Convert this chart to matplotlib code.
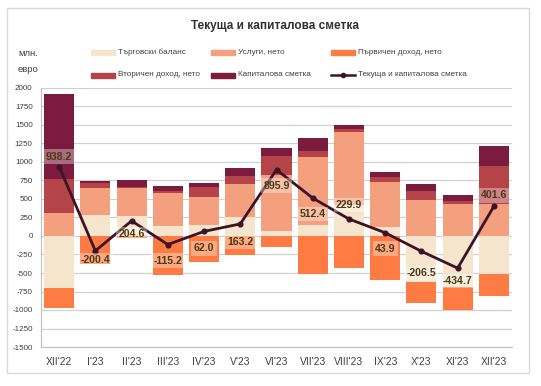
import matplotlib
matplotlib.use("Agg")
import matplotlib.pyplot as plt
from matplotlib.patches import Rectangle
from matplotlib.lines import Line2D
import numpy as np

plt.rcParams['font.family'] = ['Liberation Sans Narrow', 'Liberation Sans', 'DejaVu Sans']

# ---------------- data (as drawn in the reference) ----------------
categories = ["XII'22", "I'23", "II'23", "III'23", "IV'23", "V'23", "VI'23",
              "VII'23", "VIII'23", "IX'23", "X'23", "XI'23", "XII'23"]
trade = [-708, 282, 266, 129, 150, 254, 73, 149, 413, 115, -618, -685, -515]
services = [309, 372, 388, 453, 383, 454, 751, 913, 998, 620, 493, 426, 435]
primary = [-260, -385, -25, -529, -358, -251, -145, -520, -432, -590, -291, -314, -291]
secondary = [461, 63, 10, 27, 134, 98, 251, 89, 41, 58, 116, 53, 515]
capital = [1143, 31, 99, 63, 54, 117, 112, 180, 44, 76, 90, 77, 269]
total = [938.2, -200.4, 204.6, -115.2, 62.0, 163.2, 895.9, 512.4, 229.9, 43.9, -206.5, -434.7, 401.6]

series_names = ["Търговски баланс", "Услуги, нето", "Първичен доход, нето",
                "Вторичен доход, нето", "Капиталова сметка", "Текуща и капиталова сметка"]
y_ticks = list(range(-1500, 2001, 250))

# ---------------- style ----------------
colors = ["#F5E5CC", "#F4A07F", "#FE7B43", "#B54448", "#7B1C3E"]
line_color = "#3E1327"
label_color = "#4A3A12"

W, H = 541, 386
fig = plt.figure(figsize=(W / 100, H / 100), dpi=100)
fig.patch.set_facecolor("white")

def fx(px):
    return px / W

def fy(py):
    return 1 - py / H

# outer border
fig.patches.append(Rectangle((fx(7), fy(373)), fx(529) - fx(7), fy(8) - fy(373),
                             transform=fig.transFigure, fill=False,
                             edgecolor="#D9D9D9", linewidth=1.0))

ax = fig.add_axes([fx(41), fy(347), fx(512) - fx(41), fy(88) - fy(347)])
x = np.arange(len(categories))
bw = 0.83

series = [trade, services, primary, secondary, capital]
pos_base = np.zeros(len(x))
neg_base = np.zeros(len(x))
for vals, col in zip(series, colors):
    v = np.array(vals, dtype=float)
    bottoms = np.where(v >= 0, pos_base, neg_base)
    ax.bar(x, v, bw, bottom=bottoms, color=col, edgecolor="none", zorder=2)
    pos_base = pos_base + np.where(v >= 0, v, 0)
    neg_base = neg_base + np.where(v < 0, v, 0)

ax.plot(x, total, color=line_color, linewidth=2.0, marker="o", markersize=3.4, zorder=4)

offsets = [10, -9, -13, -16, -17, -18, -16, -16, 14, -16, -22, -13, 11]
for xi, v, off in zip(x, total, offsets):
    ax.annotate(f"{v:.1f}", (xi, v), xytext=(0, off), textcoords="offset pixels",
                ha="center", va="center", fontsize=7.6, fontweight="bold",
                color=label_color, zorder=5,
                bbox=dict(boxstyle="square,pad=0.22", fc="white", alpha=0.35, ec="none"))

ax.set_xlim(-0.5, len(x) - 0.5)
ax.set_ylim(-1500, 2000)
ax.set_yticks(y_ticks)
ax.set_yticklabels([str(t) for t in y_ticks], fontsize=5.8, color="#404040")
ax.set_xticks(x)
ax.set_xticklabels(categories, fontsize=7.4, color="#404040")
ax.tick_params(axis="y", length=0, pad=6)
ax.tick_params(axis="x", length=0, pad=7)
ax.grid(axis="y", color="#D0D0D0", linewidth=0.9, zorder=0)
ax.set_axisbelow(True)
for s in ["top", "right"]:
    ax.spines[s].set_visible(False)
ax.spines["left"].set_color("#BFBFBF")
ax.spines["bottom"].set_color("#BFBFBF")

# title
fig.text(fx(275), fy(26), "Текуща и капиталова сметка", ha="center", va="center",
         fontsize=8.5, fontweight="bold", color="#303030")

# unit label
fig.text(fx(18), fy(53), "млн.", ha="left", va="center", fontsize=6.8, color="#404040")
fig.text(fx(18), fy(70), "евро", ha="left", va="center", fontsize=6.8, color="#404040")

# legend (manual)
leg_cols = [91, 211, 331]
leg_rows = [52, 75]
for k, name in enumerate(series_names):
    r, c = divmod(k, 3)
    px, py = leg_cols[c], leg_rows[r]
    if k < 5:
        fig.patches.append(Rectangle((fx(px), fy(py + 2.5)), fx(24), 4.5 / H,
                                     transform=fig.transFigure, color=colors[k]))
    else:
        fig.lines.append(Line2D([fx(px), fx(px + 24)], [fy(py), fy(py)],
                                transform=fig.transFigure, color=line_color, linewidth=1.8))
        fig.lines.append(Line2D([fx(px + 12)], [fy(py)], transform=fig.transFigure,
                                color=line_color, marker="o", markersize=3))
    fig.text(fx(px + 27), fy(py), name, ha="left", va="center", fontsize=5.9, color="#404040")

fig.savefig("out.png", dpi=100)
